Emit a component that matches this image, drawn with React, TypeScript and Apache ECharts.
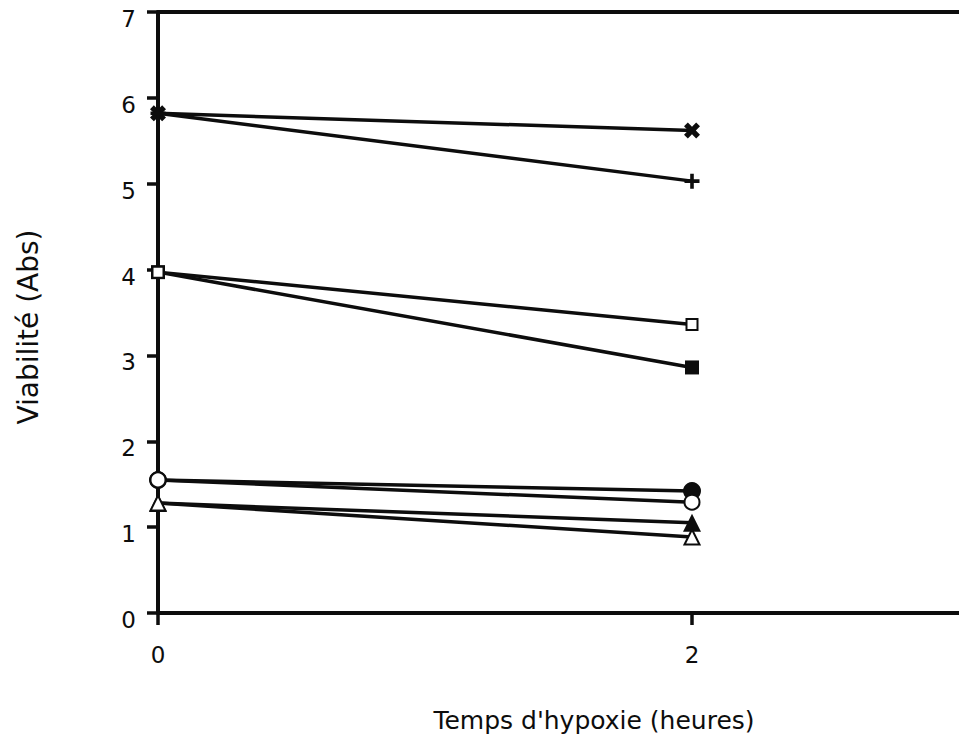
import React, { useEffect, useRef } from "react";
import * as echarts from "echarts";

// Hypoxia duration (hours) at which viability was measured
const hours = [0, 2];

// Viability (absorbance) per condition, at 0 h and 2 h
const crossValues = [5.82, 5.62];
const plusValues = [5.82, 5.03];
const filledSquareValues = [3.97, 2.86];
const openSquareValues = [3.97, 3.36];
const filledCircleValues = [1.55, 1.42];
const openCircleValues = [1.55, 1.29];
const filledTriangleValues = [1.28, 1.05];
const openTriangleValues = [1.28, 0.885];

// Axis ticks
const xTickValues = [0, 2];
const yMin = 0;
const yMax = 7;
const xMin = 0;
const xMax = 3;

const xTitle = "Temps d'hypoxie (heures)";
const yTitle = "Viabilité (Abs)";

const INK = "#0d0d0d";
const FONT = "'DejaVu Sans', Verdana, sans-serif";

// Filled marker shapes drawn as paths
const CROSS_PATH =
  "path://M0,2.4L2.4,0L5,2.6L7.6,0L10,2.4L7.4,5L10,7.6L7.6,10L5,7.4L2.4,10L0,7.6L2.6,5Z";
const PLUS_PATH = "path://M3.8,0H6.2V3.8H10V6.2H6.2V10H3.8V6.2H0V3.8H3.8Z";

function pairs(values: number[]) {
  return hours.map((h, i) => [h, values[i]]);
}

function makeSeries(
  name: string,
  values: number[],
  symbol: string,
  symbolSize: number,
  hollow: boolean
) {
  return {
    name,
    type: "line",
    data: pairs(values),
    symbol,
    symbolSize,
    showSymbol: true,
    lineStyle: { color: INK, width: 3.5 },
    itemStyle: hollow
      ? { color: INK, borderColor: INK, borderWidth: 3.2 }
      : { color: INK, borderWidth: 0 },
    emphasis: { disabled: true },
    xAxisIndex: 0,
    yAxisIndex: 0,
  };
}

export default function App() {
  const ref = useRef<HTMLDivElement>(null);

  useEffect(() => {
    if (!ref.current) return;
    const chart = echarts.init(ref.current, undefined, { renderer: "svg" });

    chart.setOption({
      animation: false,
      backgroundColor: "#fff",
      grid: { left: 158, right: 0, top: 12, bottom: 126, containLabel: false },
      xAxis: [
        {
          type: "value",
          min: xMin,
          max: xMax,
          position: "bottom",
          axisLine: { show: true, onZero: false, lineStyle: { color: INK, width: 4 } },
          axisTick: {
            show: true,
            inside: false,
            length: 12,
            customValues: xTickValues,
            lineStyle: { color: INK, width: 3.5 },
          },
          axisLabel: {
            show: true,
            customValues: xTickValues,
            margin: 30,
            color: INK,
            fontSize: 23,
            fontFamily: FONT,
          },
          splitLine: { show: false },
        },
        {
          type: "value",
          min: xMin,
          max: xMax,
          position: "top",
          axisLine: { show: true, onZero: false, lineStyle: { color: INK, width: 4 } },
          axisTick: { show: false },
          axisLabel: { show: false },
          splitLine: { show: false },
        },
      ],
      yAxis: {
        type: "value",
        min: yMin,
        max: yMax,
        interval: 1,
        axisLine: { show: true, onZero: false, lineStyle: { color: INK, width: 4 } },
        axisTick: { show: true, inside: false, length: 11, lineStyle: { color: INK, width: 3.5 } },
        axisLabel: {
          margin: 22,
          color: INK,
          fontSize: 23,
          fontFamily: FONT,
          verticalAlign: "top",
          lineHeight: 14,
        },
        splitLine: { show: false },
      },
      graphic: [
        {
          type: "text",
          x: 594,
          y: 720,
          style: {
            text: xTitle,
            fill: INK,
            font: `25px ${FONT}`,
            textAlign: "center",
            textVerticalAlign: "middle",
          },
        },
        {
          type: "text",
          x: 28,
          y: 327,
          rotation: Math.PI / 2,
          style: {
            text: yTitle,
            fill: INK,
            font: `28px ${FONT}`,
            textAlign: "center",
            textVerticalAlign: "middle",
          },
        },
      ],
      series: [
        makeSeries("×", crossValues, CROSS_PATH, 16, false),
        makeSeries("+", plusValues, PLUS_PATH, 15, false),
        makeSeries("■", filledSquareValues, "rect", 14, false),
        makeSeries("□", openSquareValues, "emptyRect", 11, true),
        makeSeries("●", filledCircleValues, "circle", 18, false),
        makeSeries("○", openCircleValues, "emptyCircle", 15, true),
        makeSeries("▲", filledTriangleValues, "triangle", 18, false),
        makeSeries("△", openTriangleValues, "emptyTriangle", 15, true),
      ],
    });

    return () => chart.dispose();
  }, []);

  return (
    <div
      ref={ref}
      style={{ position: "fixed", left: 0, top: 0, width: 959, height: 739, background: "#fff" }}
    />
  );
}
